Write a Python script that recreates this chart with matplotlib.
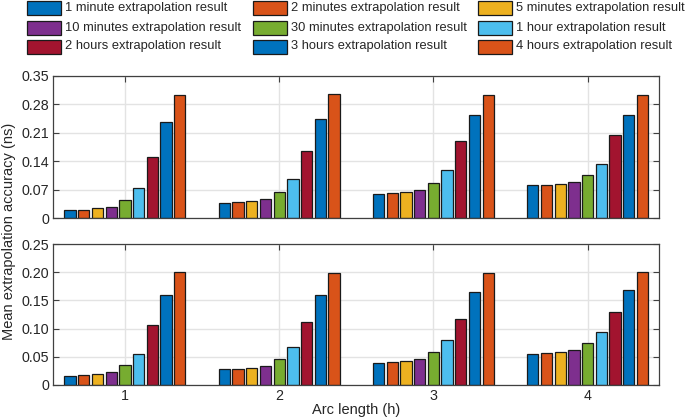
import numpy as np
import matplotlib
matplotlib.use('Agg')
from matplotlib import pyplot as plt
from matplotlib.patches import Rectangle

plt.rcParams['font.family'] = ['Liberation Sans', 'DejaVu Sans']

arc_hours = [1, 2, 3, 4]
labels = ['1 minute extrapolation result', '2 minutes extrapolation result', '5 minutes extrapolation result',
          '10 minutes extrapolation result', '30 minutes extrapolation result', '1 hour extrapolation result',
          '2 hours extrapolation result', '3 hours extrapolation result', '4 hours extrapolation result']
colors = ['#0072BD', '#D95319', '#EDB120', '#7E2F8E', '#77AC30', '#4DBEEE', '#A2142F', '#0072BD', '#D95319']

# rows = arc length 1..4 h, columns = extrapolation span
top_vals = np.array([
    [0.0196, 0.0200, 0.0237, 0.0280, 0.0440, 0.0736, 0.1510, 0.2355, 0.3020],
    [0.0376, 0.0390, 0.0417, 0.0458, 0.0638, 0.0957, 0.1650, 0.2445, 0.3050],
    [0.0597, 0.0605, 0.0630, 0.0679, 0.0859, 0.1170, 0.1890, 0.2527, 0.3034],
    [0.0800, 0.0810, 0.0842, 0.0883, 0.1063, 0.1340, 0.2036, 0.2527, 0.3020],
])
bottom_vals = np.array([
    [0.0165, 0.0171, 0.0195, 0.0230, 0.0349, 0.0550, 0.1058, 0.1590, 0.2010],
    [0.0278, 0.0284, 0.0307, 0.0337, 0.0467, 0.0668, 0.1110, 0.1600, 0.1980],
    [0.0396, 0.0408, 0.0426, 0.0455, 0.0585, 0.0790, 0.1176, 0.1655, 0.1990],
    [0.0556, 0.0567, 0.0585, 0.0620, 0.0745, 0.0946, 0.1300, 0.1680, 0.1998],
])
top_ticks = [0, 0.07, 0.14, 0.21, 0.28, 0.35]
top_ticklabels = ['0', '0.07', '0.14', '0.21', '0.28', '0.35']
bottom_ticks = [0, 0.05, 0.10, 0.15, 0.20, 0.25]
bottom_ticklabels = ['0', '0.05', '0.10', '0.15', '0.20', '0.25']

W, H = 685, 420
fig = plt.figure(figsize=(6.85, 4.2), dpi=100)
ax1 = fig.add_axes([53.3/W, 1-218/H, 606/W, 142.3/H])
ax2 = fig.add_axes([53.3/W, 1-385/H, 606/W, 141/H])

x = np.array(arc_hours, dtype=float)
pitch = 0.8/9
bw = 0.073
axcol = '#404040'
txtcol = '#262626'

for ax, vals, ticks, tlab, showx in [(ax1, top_vals, top_ticks, top_ticklabels, False),
                                    (ax2, bottom_vals, bottom_ticks, bottom_ticklabels, True)]:
    for i in range(9):
        ax.bar(x + (i-4)*pitch, vals[:, i], width=bw, color=colors[i], edgecolor='#1a1a1a',
               linewidth=0.9, zorder=3)
    ax.set_xlim(0.5354, 4.4646)
    ax.set_ylim(ticks[0], ticks[-1])
    ax.set_yticks(ticks)
    ax.set_yticklabels(tlab)
    ax.set_xticks(arc_hours)
    if showx:
        ax.set_xticklabels([str(a) for a in arc_hours])
    else:
        ax.set_xticklabels([])
    ax.grid(True, color='#e3e3e3', linewidth=1.0, zorder=0)
    ax.set_axisbelow(True)
    ax.tick_params(direction='in', top=True, right=True, length=4, width=0.8,
                   colors=axcol, labelcolor=txtcol, labelsize=10.3, pad=3)
    for s in ax.spines.values():
        s.set_color(axcol)
        s.set_linewidth(0.9)
        s.set_zorder(5)

fig.text(9/W, 1-231/H, 'Mean extrapolation accuracy (ns)', rotation=90, ha='center', va='center',
         fontsize=10.5, color=txtcol)
fig.text(356/W, 1-410/H, 'Arc length (h)', ha='center', va='center', fontsize=10.5, color=txtcol)

# legend, 3 columns filled row by row
col_x = [27, 253, 478]
row_y = [8, 27.5, 46.5]
for k, (lab, c) in enumerate(zip(labels, colors)):
    r, cc = divmod(k, 3)
    fig.patches.append(Rectangle(((col_x[cc])/W, 1-(row_y[r]+7)/H), 34/W, 14/H, transform=fig.transFigure,
                                 facecolor=c, edgecolor='#1a1a1a', linewidth=0.9))
    fig.text((col_x[cc]+38)/W, 1-row_y[r]/H, lab, ha='left', va='center', fontsize=9.3, color=txtcol)

fig.savefig('out.png', dpi=100)
